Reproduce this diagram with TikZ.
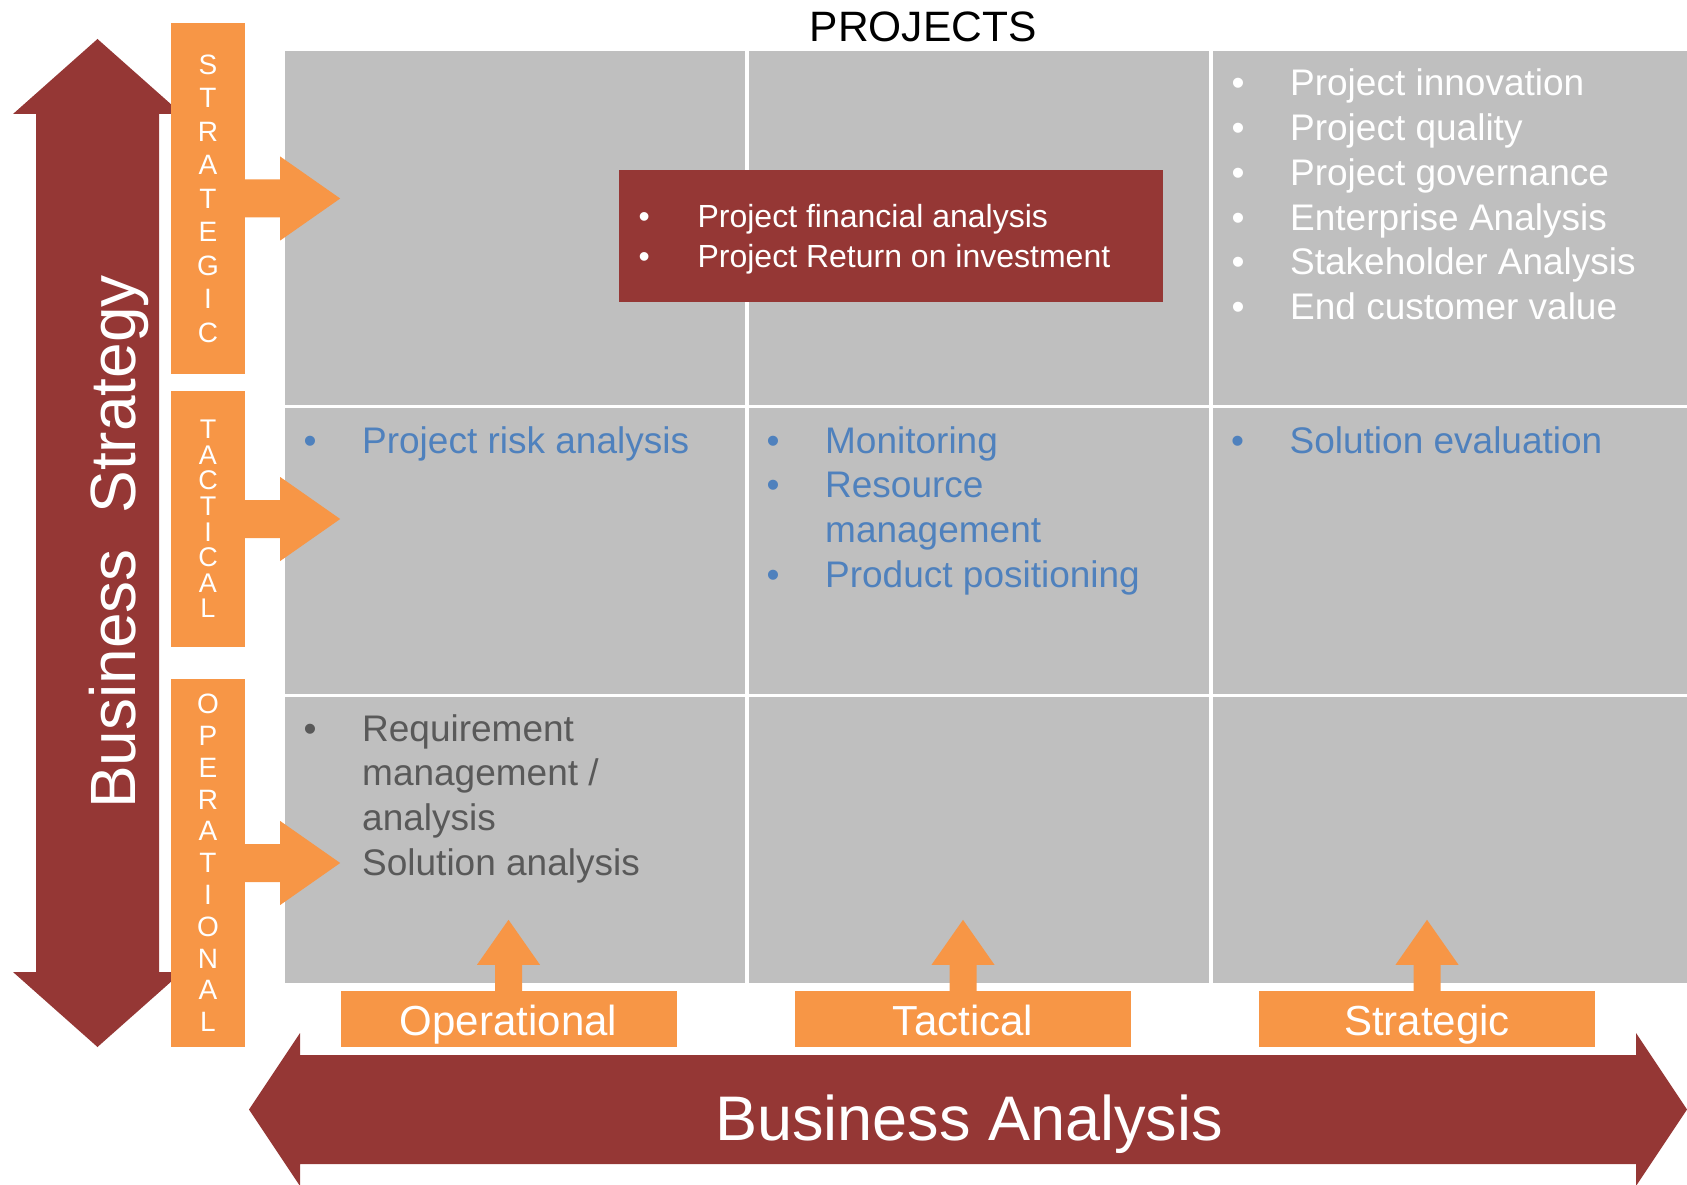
\documentclass[tikz,border=0pt]{standalone}
\usepackage{fontspec}
\setmainfont{Liberation Sans}
\usepackage{array}
\usepackage{xcolor}

\definecolor{brick}{HTML}{953735}
\definecolor{tangerine}{HTML}{F79646}
\definecolor{cellgray}{HTML}{BFBFBF}
\definecolor{itemblue}{HTML}{4F81BD}
\definecolor{itemgray}{HTML}{595959}

\begin{document}
\begin{tikzpicture}[x=1pt, y=-1pt,
  bar/.style={fill=tangerine, text=white, minimum width=74, inner sep=0, align=center, font=\fontsize{28}{33.5}\selectfont},
  level/.style={fill=tangerine, text=white, minimum width=336, minimum height=56, inner sep=0, text height=32, text depth=0, font=\fontsize{42}{50}\selectfont},
  items/.style={anchor=base west, inner sep=0, font=\fontsize{37}{44.7}\selectfont}]

\useasboundingbox (0,0) rectangle (1687,1185);

% Business strategy arrow
\fill[brick] (97.5,39) -- (182,114) -- (159,114) -- (159,972) -- (182,972) -- (97.5,1047)
    -- (13,972) -- (36,972) -- (36,114) -- (13,114) -- cycle;

% Level bars
\node[bar, minimum height=351] (strategic) at (208,198.5) {S\\T\\R\\A\\T\\E\\G\\I\\C};
\node[bar, minimum height=256, font=\fontsize{27}{25.6}\selectfont] (tactical) at (208,519) {T\\A\\C\\T\\I\\C\\A\\L};
\node[bar, minimum height=368, font=\fontsize{28}{31.8}\selectfont] (operational) at (208,863) {O\\P\\E\\R\\A\\T\\I\\O\\N\\A\\L};

% Project grid
\fill[cellgray] (285,51) rectangle (1687,983);
\foreach \x in {747,1211}
  \draw[white, line width=3.5] (\x,51) -- (\x,983);
\foreach \y in {406.5,695.5}
  \draw[white, line width=3] (285,\y) -- (1687,\y);

\node[fill=brick, minimum width=544, minimum height=132, anchor=north west, inner sep=0] (finbox) at (619,170) {};

% Arrows into the grid
\foreach \b in {strategic,tactical,operational}
  \fill[tangerine] (\b.east) ++(0,-19) -- ++(35,0) -- ++(0,-23) -- ++(60,42) -- ++(-60,42) -- ++(0,-23) -- ++(-35,0) -- cycle;

% Analysis levels
\node[level] (lvop) at (508.5,1019) {Operational};
\node[level] (lvtac) at (963,1019) {Tactical};
\node[level] (lvstr) at (1427,1019) {Strategic};
\foreach \b in {lvop,lvtac,lvstr}
  \fill[tangerine] (\b.north) ++(-13.5,0) -- ++(0,-26) -- ++(-18,0) -- ++(31.5,-45) -- ++(31.5,45) -- ++(-18,0) -- ++(0,26) -- cycle;

% Business analysis arrow
\fill[brick] (249,1109.5) -- (300,1033) -- (300,1055) -- (1636,1055) -- (1636,1033) -- (1687,1109.5)
    -- (1636,1186) -- (1636,1164) -- (300,1164) -- (300,1186) -- cycle;

% Titles
\node[anchor=base, inner sep=0, font=\fontsize{42.5}{50}\selectfont] (projects) at (923,42) {PROJECTS};
\node[rotate=90, anchor=base, inner sep=0, text=white, font=\fontsize{64}{77}\selectfont] (bstrategy) at (135,542) {Business\ \ Strategy};
\node[anchor=base, inner sep=0, text=white, font=\fontsize{63}{76}\selectfont] (banalysis) at (969,1140) {Business Analysis};

% Cell items
\node[items, font=\fontsize{32}{40}\selectfont, text=white] (finance) at (638.4,228) {\begin{tabular}[t]{@{}p{59pt}@{}l@{}}
  • & Project financial analysis\\
  • & Project Return on investment
\end{tabular}};

\node[items, text=white] (strategicitems) at (1231.5,96) {\begin{tabular}[t]{@{}p{58.5pt}@{}l@{}}
  • & Project innovation\\
  • & Project quality\\
  • & Project governance\\
  • & Enterprise Analysis\\
  • & Stakeholder Analysis\\
  • & End customer value
\end{tabular}};

\node[items, text=itemblue] (risk) at (303.5,453) {\begin{tabular}[t]{@{}p{58.5pt}@{}l@{}}
  • & Project risk analysis
\end{tabular}};

\node[items, text=itemblue] (monitoring) at (766.5,453) {\begin{tabular}[t]{@{}p{58.5pt}@{}l@{}}
  • & Monitoring\\
  • & Resource\\
    & management\\
  • & Product positioning
\end{tabular}};

\node[items, text=itemblue] (evaluation) at (1231,453) {\begin{tabular}[t]{@{}p{58.5pt}@{}l@{}}
  • & Solution evaluation
\end{tabular}};

\node[items, text=itemgray] (requirement) at (303.5,741) {\begin{tabular}[t]{@{}p{58.5pt}@{}l@{}}
  • & Requirement\\
    & management /\\
    & analysis\\
    & Solution analysis
\end{tabular}};

\end{tikzpicture}
\end{document}
